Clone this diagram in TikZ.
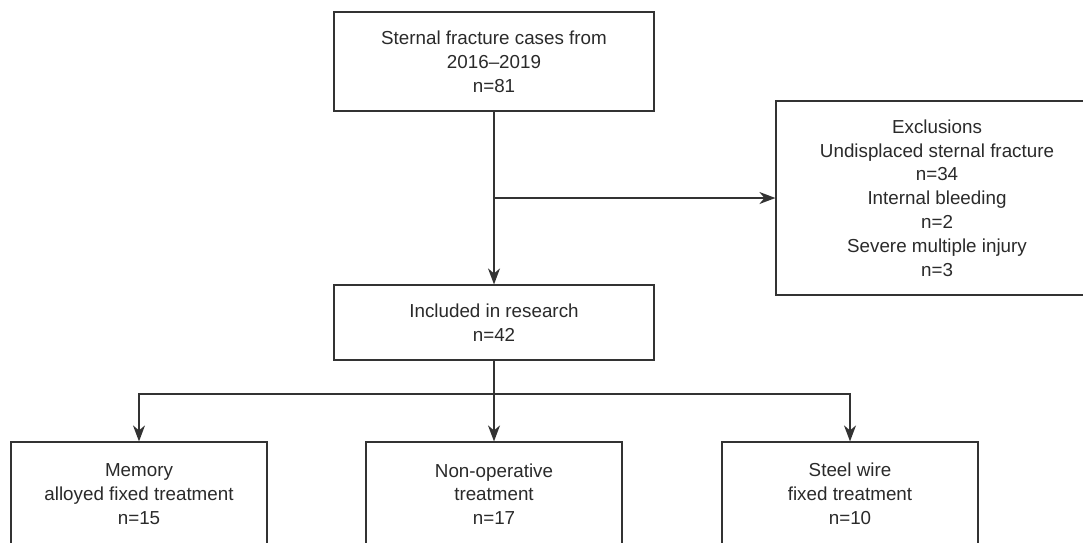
\documentclass[tikz,border=0pt]{standalone}
\usepackage{fontspec}
\setmainfont{Liberation Sans}
\usetikzlibrary{arrows.meta}
\definecolor{txt}{HTML}{2A2A2A}
\definecolor{ln}{HTML}{333333}
\begin{document}
\begin{tikzpicture}[x=1pt,y=-1pt,
  box/.style={draw=ln, line width=1.2pt, align=center, text=txt, inner sep=0pt,
    font=\fontsize{18.8}{23.8}\selectfont},
  arr/.style={draw=ln, line width=1.4pt, -{Stealth[length=16pt,width=12pt,inset=5pt]}},
  lnk/.style={draw=ln, line width=1.4pt}]
\clip (0,0) rectangle (1083,542);
\fill[white] (0,0) rectangle (1083,542);
\node[box, minimum width=320pt, minimum height=99pt] (top) at (494,61.5)
  {Sternal fracture cases from\\2016–2019\\n=81};
\node[box, minimum width=322pt, minimum height=194pt] (excl) at (937,198)
  {Exclusions\\Undisplaced sternal fracture\\n=34\\Internal bleeding\\n=2\\Severe multiple injury\\n=3};
\node[box, minimum width=320pt, minimum height=75pt] (inc) at (494,322.5)
  {Included in research\\n=42};
\node[box, minimum width=256pt, minimum height=104pt] (b1) at (139,494)
  {Memory\\alloyed fixed treatment\\n=15};
\node[box, minimum width=256pt, minimum height=104pt] (b2) at (494,494)
  {Non-operative\\treatment\\n=17};
\node[box, minimum width=256pt, minimum height=104pt] (b3) at (850,494)
  {Steel wire\\fixed treatment\\n=10};
\coordinate (br) at (494,198);
\coordinate (h) at (494,394);
\draw[arr] (top.south) -- (inc.north);
\draw[arr] (br) -- (excl.west);
\draw[lnk] (inc.south) -- (h);
\draw[arr] (h) -- (b2.north);
\draw[arr] (h) -| (b1.north);
\draw[arr] (h) -| (b3.north);
\end{tikzpicture}
\end{document}
